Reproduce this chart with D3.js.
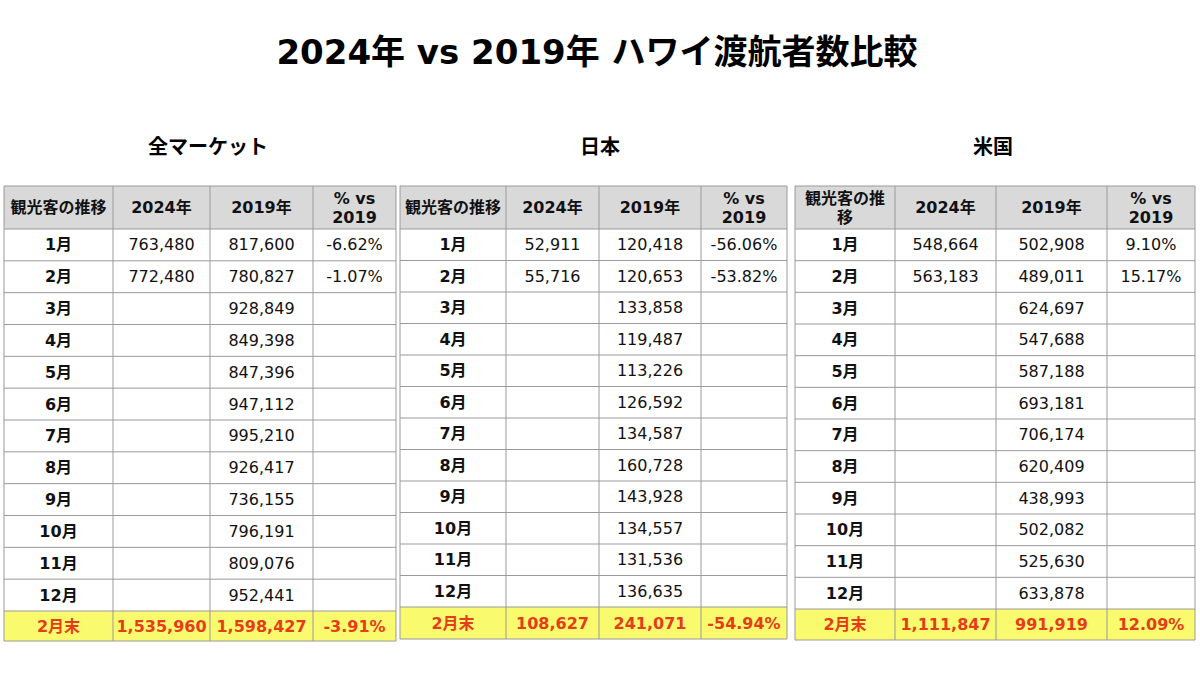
<!DOCTYPE html>
<html>
<head>
<meta charset="utf-8">
<script src="https://cdn.jsdelivr.net/npm/d3@7"></script>
<style>
  body { margin: 0; background: #fff; }
  svg { font-family: "DejaVu Sans", "Noto Sans CJK JP", sans-serif; }
</style>
</head>
<body>
<svg id="chart"></svg>
<script>
const months = ["1月","2月","3月","4月","5月","6月","7月","8月","9月","10月","11月","12月"]
const totalLabel = "2月末"
const headers = ["観光客の推移", "2024年", "2019年", "% vs\n2019"]

const allMarket2024 = [763480, 772480]
const allMarket2019 = [817600, 780827, 928849, 849398, 847396, 947112, 995210, 926417, 736155, 796191, 809076, 952441]
const allMarketPct = [-6.62, -1.07]
const allMarketTotal = [1535960, 1598427, -3.91]

const japan2024 = [52911, 55716]
const japan2019 = [120418, 120653, 133858, 119487, 113226, 126592, 134587, 160728, 143928, 134557, 131536, 136635]
const japanPct = [-56.06, -53.82]
const japanTotal = [108627, 241071, -54.94]

const us2024 = [548664, 563183]
const us2019 = [502908, 489011, 624697, 547688, 587188, 693181, 706174, 620409, 438993, 502082, 525630, 633878]
const usPct = [9.10, 15.17]
const usTotal = [1111847, 991919, 12.09]

const tables = [
    { title: "全マーケット", titleX: 208, cols: [4, 113, 210, 313, 396], rowsEnd: 611, end: 641,
      y2024: allMarket2024, y2019: allMarket2019, pct: allMarketPct, total: allMarketTotal, headWrap: false },
    { title: "日本", titleX: 600, cols: [400, 506, 599, 701, 787], rowsEnd: 607, end: 639,
      y2024: japan2024, y2019: japan2019, pct: japanPct, total: japanTotal, headWrap: false },
    { title: "米国", titleX: 993, cols: [795, 895, 996, 1107, 1195], rowsEnd: 609, end: 640,
      y2024: us2024, y2019: us2019, pct: usPct, total: usTotal, headWrap: true }
]

const width = 1200, height = 674
const headTop = 186, headBottom = 229
// plain hyphen for negatives, like the source sheet
const locale = d3.formatLocale({ decimal: ".", thousands: ",", grouping: [3], currency: ["", ""], minus: "-" })
const fmtNum = locale.format(",")
const fmtPct = v => locale.format(".2f")(v) + "%"

const svg = d3.select("#chart").attr("width", width).attr("height", height)

svg.append("text")
    .attr("x", 597).attr("y", 52)
    .attr("text-anchor", "middle").attr("dominant-baseline", "central")
    .attr("font-size", 34).attr("font-weight", "bold")
    .text("2024年 vs 2019年 ハワイ渡航者数比較")

tables.forEach(t => {
    let g = svg.append("g")

    g.append("text")
        .attr("x", t.titleX).attr("y", 147)
        .attr("text-anchor", "middle").attr("dominant-baseline", "central")
        .attr("font-size", 20).attr("font-weight", "bold")
        .text(t.title)

    let yScale = d3.scaleBand().domain(months).range([headBottom, t.rowsEnd])
    let colMid = i => (t.cols[i] + t.cols[i + 1]) / 2

    // header
    g.append("rect")
        .attr("x", t.cols[0]).attr("y", headTop)
        .attr("width", t.cols[4] - t.cols[0]).attr("height", headBottom - headTop)
        .attr("fill", "#d9d9d9")

    headers.forEach((h, i) => {
        let lines = h.split("\n")
        if (i == 0 && t.headWrap) lines = ["観光客の推", "移"]
        let txt = g.append("text")
            .attr("text-anchor", "middle")
            .attr("font-size", 16).attr("font-weight", "bold")
            .attr("fill", "#111")
        lines.forEach((l, j) => {
            txt.append("tspan")
                .attr("x", colMid(i))
                .attr("y", (headTop + headBottom) / 2 + (j - (lines.length - 1) / 2) * 19)
                .attr("dominant-baseline", "central")
                .text(l)
        })
    })

    // body rows
    let rows = g.selectAll(".row")
        .data(months.map((m, i) => ({
            month: m,
            v2024: t.y2024[i],
            v2019: t.y2019[i],
            pct: t.pct[i]
        })))
        .join("g")
        .attr("class", "row")
        .attr("transform", d => `translate(0, ${yScale(d.month) + yScale.bandwidth() / 2})`)

    rows.append("text")
        .attr("x", colMid(0)).attr("dominant-baseline", "central")
        .attr("text-anchor", "middle").attr("font-size", 16).attr("font-weight", "bold")
        .attr("fill", "#111")
        .text(d => d.month)

    rows.append("text")
        .attr("x", colMid(1)).attr("dominant-baseline", "central")
        .attr("text-anchor", "middle").attr("font-size", 16).attr("fill", "#111")
        .text(d => d.v2024 != null ? fmtNum(d.v2024) : "")

    rows.append("text")
        .attr("x", colMid(2)).attr("dominant-baseline", "central")
        .attr("text-anchor", "middle").attr("font-size", 16).attr("fill", "#111")
        .text(d => fmtNum(d.v2019))

    rows.append("text")
        .attr("x", colMid(3)).attr("dominant-baseline", "central")
        .attr("text-anchor", "middle").attr("font-size", 16).attr("fill", "#111")
        .text(d => d.pct != null ? fmtPct(d.pct) : "")

    // total row
    g.append("rect")
        .attr("x", t.cols[0]).attr("y", t.rowsEnd)
        .attr("width", t.cols[4] - t.cols[0]).attr("height", t.end - t.rowsEnd)
        .attr("fill", "#fafa6e")

    let totalTexts = [totalLabel, fmtNum(t.total[0]), fmtNum(t.total[1]), fmtPct(t.total[2])]
    totalTexts.forEach((s, i) => {
        g.append("text")
            .attr("x", colMid(i)).attr("y", (t.rowsEnd + t.end) / 2)
            .attr("dominant-baseline", "central").attr("text-anchor", "middle")
            .attr("font-size", 16).attr("font-weight", "bold")
            .attr("fill", "#e53d1c")
            .text(s)
    })

    // grid lines
    let hLines = [headTop, headBottom, ...months.slice(1).map(m => yScale(m)), t.rowsEnd, t.end]
    g.selectAll(".hline")
        .data(hLines)
        .join("line")
        .attr("x1", t.cols[0]).attr("x2", t.cols[4])
        .attr("y1", d => d).attr("y2", d => d)
        .attr("stroke", "#9a9a9a").attr("stroke-width", 1)

    g.selectAll(".vline")
        .data(t.cols)
        .join("line")
        .attr("x1", d => d).attr("x2", d => d)
        .attr("y1", headTop).attr("y2", t.end)
        .attr("stroke", "#9a9a9a").attr("stroke-width", 1)
})
</script>
</body>
</html>
